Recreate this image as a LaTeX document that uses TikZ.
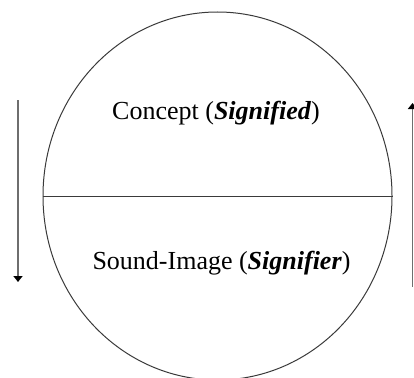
\documentclass[tikz,border=0pt]{standalone}
\usepackage{fontspec}
\setmainfont{Liberation Serif}
\usetikzlibrary{positioning,arrows.meta,shapes.geometric}
\definecolor{RimGray}{HTML}{3A3A3A}
\definecolor{ArrowGray}{HTML}{6E6E6E}

\begin{document}
\begin{tikzpicture}[x=1pt,y=-1pt, every node/.style={font=\fontsize{26}{30}\selectfont}]
  \useasboundingbox (0,0) rectangle (414,377);
  \node[draw=RimGray,line width=1pt,ellipse,minimum width=349pt,minimum height=368pt,inner sep=0pt] (sign) at (217.5,196) {};
  \draw[RimGray,line width=1pt] (sign.west) -- (sign.east);
  \node (concept) at (216,113) {Concept (\textbf{\textit{Signified}})};
  \node (sound) at (221.5,263) {Sound-Image (\textbf{\textit{Signifier}})};
  \coordinate (ltop) at (18,100);
  \coordinate (lbot) at (18,282);
  \coordinate (rbot) at (412.5,287);
  \coordinate (rtop) at (412.5,103);
  \draw[ArrowGray,line width=1.8pt,-{Triangle[width=9pt,length=6pt,black]}] (ltop) -- (lbot);
  \draw[ArrowGray,line width=1.8pt,-{Triangle[width=9pt,length=6pt,black]}] (rbot) -- (rtop);
\end{tikzpicture}
\end{document}
